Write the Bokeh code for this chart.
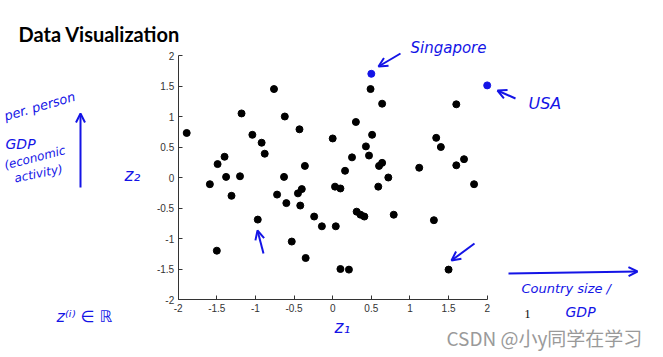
from bokeh.plotting import figure
from bokeh.models import Label, Arrow, OpenHead, Range1d, FixedTicker, LinearAxis
from bokeh.embed import file_html
from bokeh.resources import INLINE

# ---- data ----
z1 = [-1.89, -1.49, -1.40, -1.38, -1.18, -1.20, -1.04, -0.92, -0.88, -0.76,
      -0.62, -0.63, -0.43, -0.36, 0.00, 0.16, 0.49, 0.64, 1.60, 0.30,
      0.51, 0.43, 0.25, 0.47, 0.60, 0.64, 0.72, 1.12, 1.34, 1.40,
      1.60, 1.70, -1.59, -1.31, -1.50, -0.97, -0.72, -0.60, -0.45, -0.40,
      -0.42, -0.24, -0.14, -0.53, -0.35, 0.03, 0.10, 0.04, 0.10, 0.21,
      0.59, 1.83, 0.31, 0.36, 0.41, 0.79, 1.31, 1.50]
z2 = [0.73, 0.22, 0.34, 0.01, 1.05, 0.02, 0.70, 0.57, 0.39, 1.45,
      1.00, 0.01, 0.79, 0.19, 0.64, 0.11, 1.45, 1.21, 1.20, 0.91,
      0.70, 0.51, 0.33, 0.36, 0.19, 0.24, 0.00, 0.16, 0.65, 0.50,
      0.20, 0.30, -0.11, -0.30, -1.20, -0.69, -0.28, -0.42, -0.26, -0.19,
      -0.46, -0.64, -0.80, -1.05, -1.32, -0.15, -0.18, -0.80, -1.50, -1.51,
      -0.15, -0.11, -0.56, -0.61, -0.64, -0.61, -0.70, -1.51]
highlight_names = ["Singapore", "USA"]
highlight_z1 = [0.50, 2.00]
highlight_z2 = [1.70, 1.51]
x_ticks = [-2, -1.5, -1, -0.5, 0, 0.5, 1, 1.5, 2]
y_ticks = [-2, -1.5, -1, -0.5, 0, 0.5, 1, 1.5, 2]
axis_lo, axis_hi = -2, 2

# ---- layout geometry (canvas pixels) ----
W, H = 663, 357
X_LEFT_PX, X_RIGHT_PX = 177.7, 486.7     # where axis_lo / axis_hi fall
Y_TOP_PX, Y_BOT_PX = 55.0, 299.0
kx = (axis_hi - axis_lo) / (X_RIGHT_PX - X_LEFT_PX)
ky = (axis_hi - axis_lo) / (Y_BOT_PX - Y_TOP_PX)
x_range = Range1d(axis_lo - X_LEFT_PX * kx, axis_hi + (W - X_RIGHT_PX) * kx)
y_range = Range1d(axis_lo - (H - Y_BOT_PX) * ky, axis_hi + Y_TOP_PX * ky)

BLUE = "#1414e6"

p = figure(width=W, height=H, output_backend="svg", toolbar_location=None,
           x_range=x_range, y_range=y_range,
           x_axis_type=None, y_axis_type=None, min_border=0)
p.outline_line_color = None
p.background_fill_color = "white"
p.border_fill_color = "white"

xaxis = LinearAxis(fixed_location=axis_lo, bounds=(axis_lo, axis_hi),
                   ticker=FixedTicker(ticks=x_ticks))
yaxis = LinearAxis(fixed_location=axis_lo, bounds=(axis_lo, axis_hi),
                   ticker=FixedTicker(ticks=y_ticks))
for ax, ticks in ((xaxis, x_ticks), (yaxis, y_ticks)):
    ax.axis_line_color = "#333333"
    ax.major_tick_line_color = "#333333"
    ax.major_tick_in = 4
    ax.major_tick_out = 0
    ax.minor_tick_line_color = None
    ax.major_label_text_font = "Liberation Sans"
    ax.major_label_text_font_size = "10px"
    ax.major_label_text_color = "#333333"
    ax.major_label_standoff = 4
    ax.major_label_overrides = {t: ("%g" % t) for t in ticks}
p.add_layout(xaxis, "below")
p.add_layout(yaxis, "left")

p.scatter(z1, z2, size=7, color="black")
p.scatter(highlight_z1, highlight_z2, size=7, color=BLUE)


def sx(px):
    return px


def sy(py):
    return H - py


def lab(text, px, py, size, color=BLUE, font="DejaVu Sans", style="italic",
        angle=0.0, baseline="middle"):
    p.add_layout(Label(x=sx(px), y=sy(py), x_units="screen", y_units="screen",
                       text=text, text_font=font, text_font_size=f"{size}px",
                       text_font_style=style, text_color=color, angle=angle,
                       text_baseline=baseline, text_align="left"))


def arrow(x0, y0, x1, y1, w=2):
    p.add_layout(Arrow(end=OpenHead(size=9, line_color=BLUE, line_width=w),
                       x_start=sx(x0), y_start=sy(y0), x_end=sx(x1), y_end=sy(y1),
                       start_units="screen", end_units="screen",
                       line_color=BLUE, line_width=w))


# title
lab("Data Visualization", 18, 33, 20, color="black", font="Lato",
    style="bold", baseline="alphabetic")

# handwritten notes
lab(highlight_names[0], 410, 47, 15)
lab(highlight_names[1], 528, 103, 16)
lab("per. person", 4, 116, 13, angle=0.28)
lab("GDP", 5, 143, 14)
lab("(economic", 4, 165, 12, angle=0.25)
lab("activity)", 14, 178, 12, angle=0.2)
lab("z₂", 124, 174, 17)
lab("z₁", 334, 326, 17)
lab("z⁽ⁱ⁾ ∈ ℝ", 56, 316, 16)
lab("Country size /", 521, 288, 13)
lab("GDP", 565, 311, 14)
lab("1", 524, 313, 12, color="black", font="Liberation Serif", style="normal")
lab("CSDN @小y同学在学习", 446, 337, 19, color="#9a9a9a",
    font="Noto Sans CJK SC", style="normal")

arrow(400, 53, 378, 66)
arrow(515, 98, 497, 90)
arrow(80, 187, 80, 113)
arrow(263, 253, 257, 230)
arrow(474, 243, 451, 260)
arrow(508, 273, 637, 271)

open("out.html", "w").write(file_html(p, INLINE))
